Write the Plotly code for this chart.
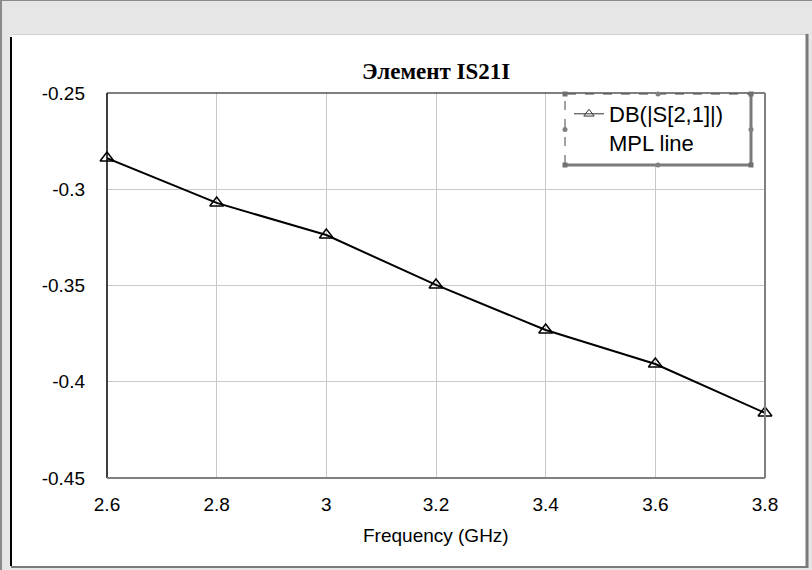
import plotly.graph_objects as go

# S21 (dB) versus frequency
freq_ghz = [2.6, 2.8, 3.0, 3.2, 3.4, 3.6, 3.8]
s21_db = [-0.2838, -0.3071, -0.3238, -0.3497, -0.3731, -0.3908, -0.4162]

x_ticks = [2.6, 2.8, 3.0, 3.2, 3.4, 3.6, 3.8]
x_tick_labels = ["2.6", "2.8", "3", "3.2", "3.4", "3.6", "3.8"]
y_ticks = [-0.45, -0.4, -0.35, -0.3, -0.25]
y_tick_labels = ["-0.45", "-0.4", "-0.35", "-0.3", "-0.25"]

W, H = 812, 570
L, R, T, B = 107, 765, 93, 478  # plot area in pixels


def px(x):
    return (x - L) / (R - L)


def py(y):
    return 1 - (y - T) / (B - T)


fig = go.Figure()

fig.add_trace(go.Scatter(
    x=freq_ghz, y=s21_db,
    mode="lines+markers",
    name="DB(|S[2,1]|)<br>MPL line",
    showlegend=False,
    line=dict(color="black", width=2),
    marker=dict(symbol="triangle-up-open", size=12, color="black",
                line=dict(width=1.5, color="black")),
    cliponaxis=False,
))
# legend-only entry with the thinner sample used in the original
fig.add_trace(go.Scatter(
    x=[None], y=[None],
    mode="lines+markers",
    name="DB(|S[2,1]|)<br>MPL line",
    line=dict(color="#333333", width=1),
    marker=dict(symbol="triangle-up-open", size=9, color="#333333",
                line=dict(width=1, color="#333333")),
))

shapes = []
# window background pieces
shapes.append(dict(type="rect", xref="paper", yref="paper",
                   x0=px(12), x1=px(806), y0=py(566), y1=py(35),
                   fillcolor="white", line=dict(width=0), layer="below"))
shapes.append(dict(type="line", xref="paper", yref="paper",
                   x0=px(12), x1=px(806), y0=py(34.5), y1=py(34.5),
                   line=dict(color="#d0d0d0", width=1), layer="below"))
shapes.append(dict(type="line", xref="paper", yref="paper",
                   x0=px(11), x1=px(11), y0=py(566), y1=py(37),
                   line=dict(color="black", width=2), layer="below"))
shapes.append(dict(type="line", xref="paper", yref="paper",
                   x0=px(807), x1=px(807), y0=py(568), y1=py(34),
                   line=dict(color="#7a7a7a", width=3), layer="below"))
shapes.append(dict(type="line", xref="paper", yref="paper",
                   x0=px(11), x1=px(808), y0=py(567), y1=py(567),
                   line=dict(color="#7a7a7a", width=2), layer="below"))
shapes.append(dict(type="line", xref="paper", yref="paper",
                   x0=px(1), x1=px(1), y0=py(0), y1=py(570),
                   line=dict(color="#8a8a8a", width=2), layer="below"))
shapes.append(dict(type="line", xref="paper", yref="paper",
                   x0=px(0), x1=px(812), y0=py(0.5), y1=py(0.5),
                   line=dict(color="#8a8a8a", width=1), layer="below"))

# plot frame: black top/left, grey bottom/right
shapes.append(dict(type="line", xref="paper", yref="paper", x0=0, x1=1, y0=1, y1=1,
                   line=dict(color="black", width=1)))
shapes.append(dict(type="line", xref="paper", yref="paper", x0=0, x1=0, y0=0, y1=1,
                   line=dict(color="black", width=1.5)))
shapes.append(dict(type="line", xref="paper", yref="paper", x0=0, x1=1, y0=0, y1=0,
                   line=dict(color="#808080", width=2)))
shapes.append(dict(type="line", xref="paper", yref="paper", x0=1, x1=1, y0=0, y1=1,
                   line=dict(color="#808080", width=2)))

# legend box with selection handles
lx0, lx1, ly0, ly1 = 565, 751, 94, 165
shapes.append(dict(type="rect", xref="paper", yref="paper",
                   x0=px(lx0), x1=px(lx1), y0=py(ly1), y1=py(ly0),
                   fillcolor="white", line=dict(color="#444444", width=1, dash="dash"),
                   layer="above"))
shapes.append(dict(type="line", xref="paper", yref="paper",
                   x0=px(lx0), x1=px(lx1), y0=py(ly1), y1=py(ly1),
                   line=dict(color="#7a7a7a", width=3), layer="above"))
shapes.append(dict(type="line", xref="paper", yref="paper",
                   x0=px(lx1), x1=px(lx1), y0=py(ly1), y1=py(ly0),
                   line=dict(color="#7a7a7a", width=3), layer="above"))
for hx in (lx0, lx1):
    for hy in (ly0, ly1):
        shapes.append(dict(type="rect", xref="paper", yref="paper",
                           x0=px(hx - 2.5), x1=px(hx + 2.5), y0=py(hy + 2.5), y1=py(hy - 2.5),
                           fillcolor="#707070", line=dict(width=0), layer="above"))
mx, my = (lx0 + lx1) / 2, (ly0 + ly1) / 2
for hx, hy in ((mx, ly0), (mx, ly1), (lx0, my), (lx1, my)):
    shapes.append(dict(type="circle", xref="paper", yref="paper",
                       x0=px(hx - 2.5), x1=px(hx + 2.5), y0=py(hy + 2.5), y1=py(hy - 2.5),
                       fillcolor="#808080", line=dict(width=0), layer="above"))

annotations = [
    dict(text="<b>Элемент IS21I</b>", xref="paper", yref="paper",
         x=px(436), y=py(71), xanchor="center", yanchor="middle", showarrow=False,
         font=dict(family="Liberation Serif", size=23, color="black")),
    dict(text="Frequency (GHz)", xref="paper", yref="paper",
         x=px(436), y=py(535), xanchor="center", yanchor="middle", showarrow=False,
         font=dict(family="Liberation Sans", size=19, color="black")),
]

fig.update_layout(
    width=W, height=H,
    margin=dict(l=L, r=W - R, t=T, b=H - B),
    paper_bgcolor="#e6e6e6",
    plot_bgcolor="white",
    font=dict(family="Liberation Sans", size=19, color="black"),
    showlegend=True,
    legend=dict(x=px(569), y=py(93), xanchor="left", yanchor="top",
                bgcolor="rgba(0,0,0,0)", borderwidth=0, valign="top",
                font=dict(family="Liberation Sans", size=22, color="black")),
    shapes=shapes,
    annotations=annotations,
)

fig.update_xaxes(range=[2.6, 3.8], tickvals=x_ticks, ticktext=x_tick_labels,
                 showgrid=True, gridcolor="#c8c8c8", gridwidth=1,
                 zeroline=False, showline=False, ticks="", ticklabelstandoff=13)
fig.update_yaxes(range=[-0.45, -0.25], tickvals=y_ticks, ticktext=y_tick_labels,
                 showgrid=True, gridcolor="#c8c8c8", gridwidth=1,
                 zeroline=False, showline=False, ticks="", ticklabelstandoff=21)

fig.write_html("out.html", config={"displayModeBar": False},
               post_script="document.body.style.margin='0';document.body.style.overflow='hidden';")
